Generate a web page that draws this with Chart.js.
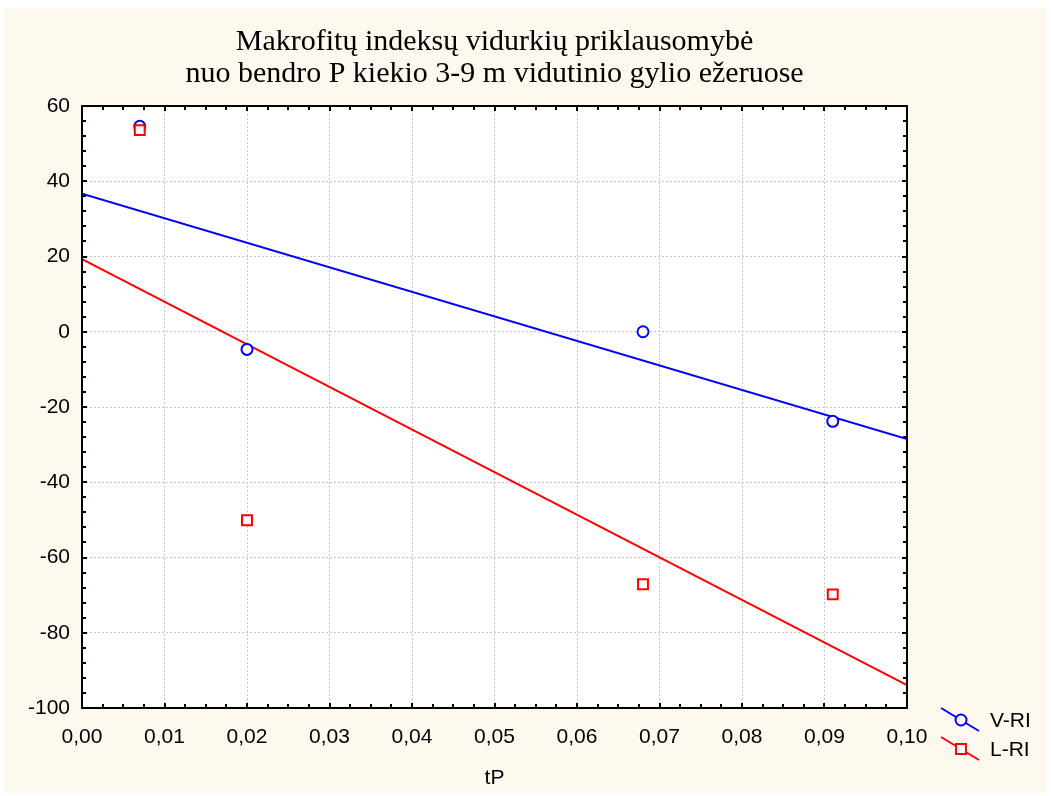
<!DOCTYPE html>
<html>
<head>
<meta charset="utf-8">
<script src="https://cdn.jsdelivr.net/npm/chart.js@4/dist/chart.umd.min.js"></script>
<style>
  html, body { margin: 0; padding: 0; background: #ffffff; }
  #wrap { width: 1051px; height: 796px; position: relative; }
</style>
</head>
<body>
<div id="wrap"><canvas id="c" width="1051" height="796"></canvas></div>
<script>
// ---- data ----
const titleLines = ['Makrofitų indeksų vidurkių priklausomybė', 'nuo bendro P kiekio 3-9 m vidutinio gylio ežeruose'];
const xAxisTitle = 'tP';
const seriesNames = ['V-RI', 'L-RI'];
const tpValues = [0.007, 0.020, 0.068, 0.091];
const vRI = [54.6, -4.7, 0, -23.8];
const lRI = [53.6, -50.1, -67.1, -69.8];
const fitX = [0.0, 0.10];
const vFit = [36.7, -28.5];
const lFit = [19.3, -93.9];
const xTickValues = [0.00, 0.01, 0.02, 0.03, 0.04, 0.05, 0.06, 0.07, 0.08, 0.09, 0.10];
const yTickValues = [-100, -80, -60, -40, -20, 0, 20, 40, 60];

const BLUE = '#0000FF';
const RED = '#FF0000';
const CREAM = '#FEF9EF';

const pts = (xs, ys) => xs.map((x, i) => ({x: x, y: ys[i]}));

const framePlugin = {
  id: 'frame',
  beforeDraw(chart) {
    const ctx = chart.ctx;
    ctx.save();
    ctx.fillStyle = '#ffffff';
    ctx.fillRect(0, 0, chart.width, chart.height);
    ctx.fillStyle = CREAM;
    ctx.fillRect(5, 8, 1041, 785);
    const a = chart.chartArea;
    ctx.fillStyle = '#ffffff';
    ctx.fillRect(a.left, a.top, a.right - a.left, a.bottom - a.top);
    // title
    ctx.fillStyle = '#000000';
    ctx.font = '30px "Liberation Serif", "Times New Roman", serif';
    ctx.textAlign = 'center';
    ctx.textBaseline = 'alphabetic';
    const cx = (a.left + a.right) / 2;
    ctx.fillText(titleLines[0], cx, 50);
    ctx.fillText(titleLines[1], cx, 82);
    ctx.restore();
  },
  afterDatasetsDraw(chart) {
    const ctx = chart.ctx;
    const a = chart.chartArea;
    const xs = chart.scales.x, ys = chart.scales.y;
    ctx.save();
    ctx.strokeStyle = '#000000';
    ctx.lineWidth = 2;
    ctx.strokeRect(a.left, a.top, a.right - a.left, a.bottom - a.top);
    ctx.lineWidth = 2;
    ctx.beginPath();
    for (let i = 0; i <= 40; i++) {
      const v = i * 0.0025;
      const px = Math.round(xs.getPixelForValue(v));
      const len = (i % 4 === 0) ? 5 : 4;
      ctx.moveTo(px, a.bottom); ctx.lineTo(px, a.bottom - len);
      ctx.moveTo(px, a.top); ctx.lineTo(px, a.top + len);
    }
    for (let v = -100; v <= 60; v += 4) {
      const py = Math.round(ys.getPixelForValue(v));
      const len = ((v + 100) % 20 === 0) ? 5 : 4;
      ctx.moveTo(a.left, py); ctx.lineTo(a.left + len, py);
      ctx.moveTo(a.right, py); ctx.lineTo(a.right - len, py);
    }
    ctx.stroke();
    ctx.restore();
  },
  afterDraw(chart) {
    // legend
    const ctx = chart.ctx;
    const items = [
      {label: seriesNames[0], color: BLUE, style: 'circle', radius: 5.5, cy: 720},
      {label: seriesNames[1], color: RED, style: 'rect', radius: 7, cy: 749}
    ];
    ctx.save();
    items.forEach(it => {
      ctx.strokeStyle = it.color;
      ctx.lineWidth = 2;
      ctx.beginPath();
      ctx.moveTo(941, it.cy - 12);
      ctx.lineTo(979, it.cy + 11);
      ctx.stroke();
      ctx.fillStyle = '#ffffff';
      ctx.strokeStyle = it.color;
      ctx.lineWidth = 2;
      Chart.helpers.drawPoint(ctx, {pointStyle: it.style, radius: it.radius, rotation: 0, borderWidth: 2}, 961, it.cy);
      ctx.fillStyle = '#000000';
      ctx.font = '21px "Liberation Sans", Arial, sans-serif';
      ctx.textAlign = 'left';
      ctx.textBaseline = 'middle';
      ctx.fillText(it.label, 990, it.cy + 1);
    });
    ctx.restore();
  }
};

const tickFont = {family: '"Liberation Sans", Arial, sans-serif', size: 21};

new Chart(document.getElementById('c'), {
  type: 'scatter',
  data: {
    datasets: [
      {label: seriesNames[1], data: pts(tpValues, lRI), pointStyle: 'rect', pointRadius: 7, pointBorderWidth: 2,
       borderColor: RED, backgroundColor: '#ffffff', showLine: false, order: 0},
      {label: seriesNames[0], data: pts(tpValues, vRI), pointStyle: 'circle', pointRadius: 5.5, pointBorderWidth: 2,
       borderColor: BLUE, backgroundColor: '#ffffff', showLine: false, order: 1},
      {label: seriesNames[0] + ' fit', data: pts(fitX, vFit), showLine: true, pointRadius: 0, borderColor: BLUE, borderWidth: 2, order: 2},
      {label: seriesNames[1] + ' fit', data: pts(fitX, lFit), showLine: true, pointRadius: 0, borderColor: RED, borderWidth: 2, order: 3}
    ]
  },
  options: {
    responsive: false,
    animation: false,
    events: [],
    layout: {padding: {top: 106, left: 0, right: 144, bottom: 0}},
    plugins: {legend: {display: false}, title: {display: false}, tooltip: {enabled: false}},
    scales: {
      x: {
        type: 'linear', min: 0, max: 0.1,
        afterFit(s) { s.height = 88; },
        afterBuildTicks(s) { s.ticks = xTickValues.map(v => ({value: v})); },
        grid: {color: '#C8C8C8', lineWidth: 1, drawTicks: false},
        border: {display: false, dash: [2, 2]},
        ticks: {font: tickFont, color: '#000000', padding: 17, maxRotation: 0,
                callback: v => v.toFixed(2).replace('.', ',')},
        title: {display: true, text: xAxisTitle, color: '#000000', font: {family: '"Liberation Sans", Arial, sans-serif', size: 21}, padding: {top: 0, bottom: 5}}
      },
      y: {
        type: 'linear', min: -100, max: 60,
        afterFit(s) { s.width = 82; },
        afterBuildTicks(s) { s.ticks = yTickValues.map(v => ({value: v})); },
        grid: {color: '#C8C8C8', lineWidth: 1, drawTicks: false},
        border: {display: false, dash: [2, 2]},
        ticks: {font: tickFont, color: '#000000', padding: 12, callback: v => String(v)}
      }
    }
  },
  plugins: [framePlugin]
});
</script>
</body>
</html>
